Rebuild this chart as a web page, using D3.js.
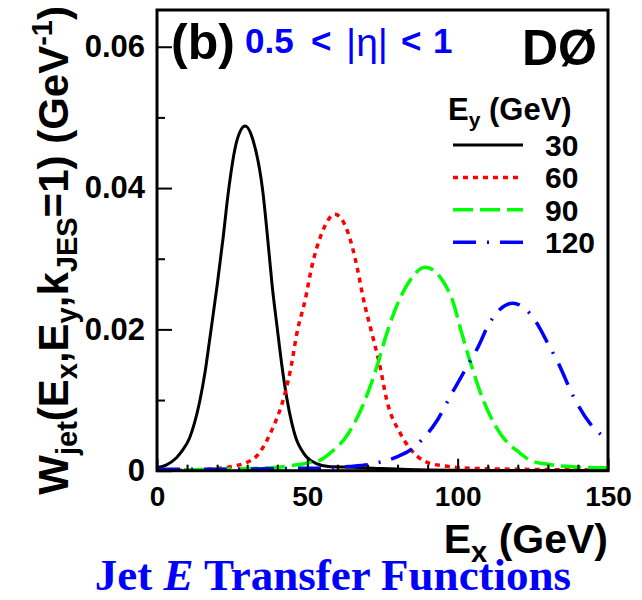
<!DOCTYPE html>
<html>
<head>
<meta charset="utf-8">
<script src="https://cdn.jsdelivr.net/npm/d3@7"></script>
<style>
  body { margin: 0; background: #fff; }
  svg { display: block; }
  text { font-family: "Liberation Sans", Arial, sans-serif; font-weight: bold; }
</style>
</head>
<body>
<svg width="642" height="600"></svg>
<script>
// E_y = 30 GeV
const ex30 = [0, 3, 6.4, 8.5, 10.8, 12.5, 14.2, 16, 17.5, 20, 22, 23.6, 26.5, 29.3, 32, 35.2, 37, 38.3, 39.9, 41.5, 43.2, 44.8, 46.3, 48, 49.6, 53, 57, 65, 75, 90, 110, 150]
const w30 = [0.0004, 0.0008, 0.0018, 0.0029, 0.0046, 0.0068, 0.0098, 0.0140, 0.0185, 0.0262, 0.0330, 0.0390, 0.0466, 0.0488, 0.0467, 0.0395, 0.0320, 0.0262, 0.0205, 0.0150, 0.0102, 0.0068, 0.0045, 0.0030, 0.0020, 0.0010, 0.0006, 0.0005, 0.0003, 0.0001, 0.00003, 0]
// E_y = 60 GeV
const ex60 = [0, 10, 20, 25, 30, 33, 37.7, 42.6, 44.6, 46.5, 49.3, 51.5, 54.8, 59.2, 63.6, 66.5, 68.7, 71.5, 74.2, 76.4, 80.9, 85, 89.7, 95, 107, 150]
const w60 = [0, 0.0001, 0.0003, 0.0006, 0.0012, 0.0020, 0.0053, 0.0110, 0.0147, 0.0194, 0.0242, 0.0289, 0.0336, 0.0363, 0.0336, 0.0289, 0.0242, 0.0194, 0.0147, 0.0100, 0.0053, 0.0027, 0.0012, 0.0007, 0.0003, 0.0001]
// E_y = 90 GeV
const ex90 = [0, 20, 30, 40, 46, 50, 54.3, 57.6, 63.7, 69.2, 73.1, 76.4, 80.6, 83.8, 89.2, 95.3, 98.2, 101.4, 104.7, 108.5, 114.1, 120.7, 124, 130, 137, 150]
const w90 = [0.0001, 0.0002, 0.0003, 0.0005, 0.0008, 0.0011, 0.0015, 0.0025, 0.0053, 0.0100, 0.0147, 0.0194, 0.0242, 0.0267, 0.0288, 0.0267, 0.0242, 0.0194, 0.0147, 0.0100, 0.0053, 0.0025, 0.0015, 0.0009, 0.0006, 0.0004]
// E_y = 120 GeV
const ex120 = [0, 20, 40, 55, 64, 72, 80, 84.5, 88.6, 93, 97.5, 103.6, 106.9, 110.2, 114, 118.3, 122.5, 126.3, 130, 133.5, 138.5, 144, 148.4, 150]
const w120 = [0.0002, 0.0002, 0.0003, 0.0004, 0.0006, 0.0010, 0.0020, 0.0030, 0.0046, 0.0070, 0.0105, 0.0151, 0.0176, 0.0206, 0.0228, 0.0237, 0.0229, 0.0209, 0.0180, 0.0152, 0.0105, 0.0067, 0.0048, 0.0041]

const legendLabels = ['30', '60', '90', '120']
const xMajor = [0, 50, 100, 150]
const xMinor = [10, 20, 30, 40, 60, 70, 80, 90, 110, 120, 130, 140]
const yMajor = [0, 0.02, 0.04, 0.06]
const yMinor = [0.01, 0.03, 0.05]

const series = [
  { label: legendLabels[0], ex: ex30, w: w30, color: '#000000', dash: null, width: 3 },
  { label: legendLabels[1], ex: ex60, w: w60, color: '#ff0000', dash: '5,5', width: 3.5 },
  { label: legendLabels[2], ex: ex90, w: w90, color: '#00ff00', dash: '20,7', width: 3.5 },
  { label: legendLabels[3], ex: ex120, w: w120, color: '#0000ff', dash: '23,11,2,11', width: 3.5 },
]

const plotL = 157, plotR = 608, plotT = 10, plotB = 470.7
const x = d3.scaleLinear().domain([0, 150]).range([plotL, plotR])
const y = d3.scaleLinear().domain([0, 0.0652]).range([plotB, plotT])

const svg = d3.select('svg')

svg.append('clipPath').attr('id', 'plotclip')
  .append('rect')
  .attr('x', plotL).attr('y', plotT)
  .attr('width', plotR - plotL).attr('height', plotB - plotT)

const line = d3.line()
  .x(d => x(d[0]))
  .y(d => y(d[1]))
  .curve(d3.curveMonotoneX)

svg.append('g')
  .attr('clip-path', 'url(#plotclip)')
  .selectAll('path')
  .data(series)
  .join('path')
  .attr('d', s => line(s.ex.map((e, i) => [e, s.w[i]])))
  .attr('fill', 'none')
  .attr('stroke', s => s.color)
  .attr('stroke-width', s => s.width)
  .attr('stroke-dasharray', s => s.dash)

// x axis: ticks point inward
svg.append('g').attr('class', 'xax').attr('transform', `translate(0,${plotB})`)
  .call(d3.axisBottom(x).tickValues(xMajor).tickSizeInner(-12).tickSizeOuter(0).tickPadding(15).tickFormat(d3.format('d')))
svg.append('g').attr('transform', `translate(0,${plotB})`)
  .call(d3.axisBottom(x).tickValues(xMinor).tickSizeInner(-6).tickSizeOuter(0).tickFormat(''))

svg.append('g').attr('class', 'yax').attr('transform', `translate(${plotL},0)`)
  .call(d3.axisLeft(y).tickValues(yMajor).tickSizeInner(-15).tickSizeOuter(0).tickPadding(12)
    .tickFormat(d => d === 0 ? '0' : d3.format('.2f')(d)))
svg.append('g').attr('transform', `translate(${plotL},0)`)
  .call(d3.axisLeft(y).tickValues(yMinor).tickSizeInner(-8).tickSizeOuter(0).tickFormat(''))

svg.selectAll('.domain').remove()
svg.selectAll('.tick line').attr('stroke', '#000').attr('stroke-width', 2)
svg.selectAll('.tick text')
  .attr('fill', '#000')
  .style('font-family', '"Liberation Sans", Arial, sans-serif')
  .style('font-weight', 'bold')
svg.selectAll('.xax .tick text').style('font-size', '28px')
svg.selectAll('.yax .tick text').style('font-size', '31px')

// frame
svg.append('rect')
  .attr('x', plotL).attr('y', plotT)
  .attr('width', plotR - plotL).attr('height', plotB - plotT)
  .attr('fill', 'none').attr('stroke', '#000').attr('stroke-width', 3)

// labels inside the frame
svg.append('text').attr('x', 171).attr('y', 59)
  .style('font-size', '50px').text('(b)')

const eta = svg.append('text').attr('y', 53).attr('fill', '#0000ff').style('font-size', '35px')
eta.append('tspan').attr('x', 245).text('0.5')
eta.append('tspan').attr('x', 311).text('<')
eta.append('tspan').attr('x', 346).attr('dy', 3).style('font-weight', 'normal').style('font-size', '39px').text('|η|')
eta.append('tspan').attr('x', 401).attr('dy', -3).text('<')
eta.append('tspan').attr('x', 433).text('1')

svg.append('text').attr('x', 597).attr('y', 65).attr('text-anchor', 'end')
  .style('font-size', '50px').text('DØ')

// legend
const legTitle = svg.append('text').attr('x', 448).attr('y', 120).style('font-size', '31px')
legTitle.append('tspan').text('E')
legTitle.append('tspan').attr('dy', 7).style('font-size', '21px').text('y')
legTitle.append('tspan').attr('dy', -7).text(' (GeV)')

const legRow = d3.scalePoint().domain(legendLabels).range([145, 242.3])
const leg = svg.append('g').selectAll('g').data(series).join('g')
leg.append('line')
  .attr('x1', 453).attr('x2', 523)
  .attr('y1', s => legRow(s.label)).attr('y2', s => legRow(s.label))
  .attr('stroke', s => s.color)
  .attr('stroke-width', s => s.width)
  .attr('stroke-dasharray', s => s.dash)
leg.append('text')
  .attr('x', 545).attr('y', s => legRow(s.label) + 11)
  .style('font-size', '30px')
  .text(s => s.label)

// axis titles
const xt = svg.append('text').attr('x', plotR).attr('y', 553).attr('text-anchor', 'end').style('font-size', '41px')
xt.append('tspan').text('E')
xt.append('tspan').attr('dy', 9).style('font-size', '29px').text('x')
xt.append('tspan').attr('dy', -9).text(' (GeV)')

const yt = svg.append('text')
  .attr('transform', 'translate(68,6) rotate(-90)')
  .attr('text-anchor', 'end')
  .style('font-size', '42px')
const sub = (t, big) => {
  yt.append('tspan').attr('dy', 9).style('font-size', '29px').text(t)
  yt.append('tspan').attr('dy', -9).text(big)
}
yt.append('tspan').text('W')
sub('jet', '(E')
sub('x', ',E')
sub('y', ',k')
sub('JES', '=1) (GeV')
yt.append('tspan').attr('dy', -16).style('font-size', '29px').text('-1')
yt.append('tspan').attr('dy', 16).text(')')

// caption
const cap = svg.append('text').attr('x', 333).attr('y', 590).attr('text-anchor', 'middle')
  .attr('fill', '#0000ff')
  .style('font-family', '"Liberation Serif", "Times New Roman", serif')
  .style('font-size', '45px')
cap.append('tspan').text('Jet ')
cap.append('tspan').style('font-style', 'italic').text('E')
cap.append('tspan').text(' Transfer Functions')
</script>
</body>
</html>
